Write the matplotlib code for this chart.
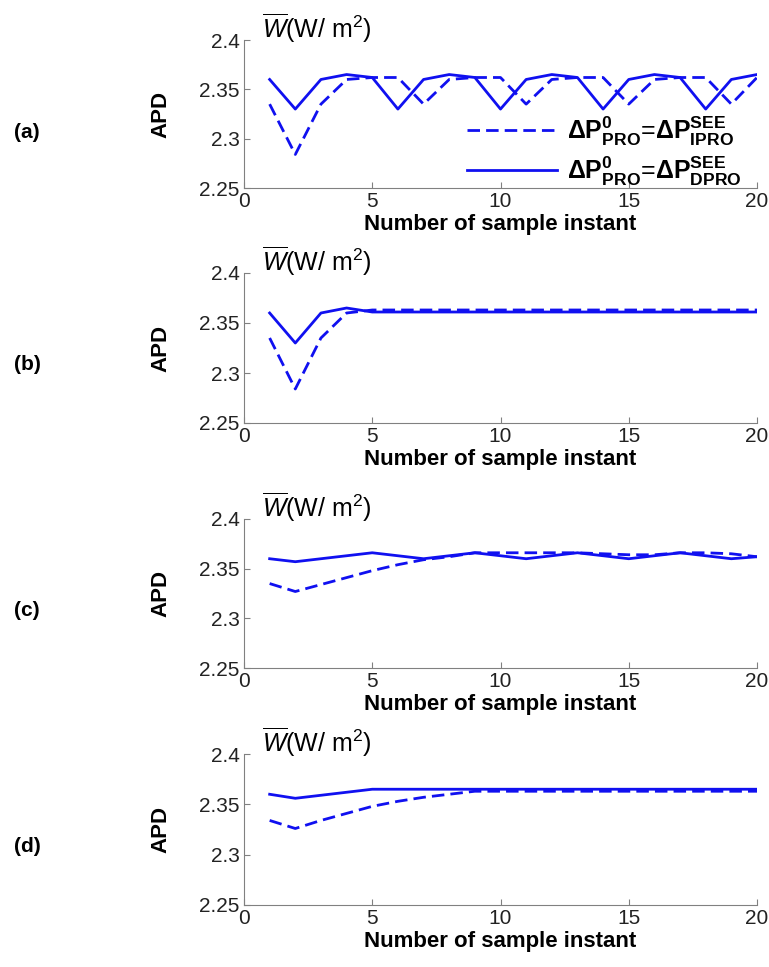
import matplotlib
matplotlib.use('Agg')
import matplotlib.pyplot as plt
import numpy as np

matplotlib.rcParams['font.family'] = ['Liberation Sans', 'DejaVu Sans']
matplotlib.rcParams['mathtext.fontset'] = 'custom'
matplotlib.rcParams['mathtext.rm'] = 'Liberation Sans'
matplotlib.rcParams['mathtext.it'] = 'Liberation Sans:italic'
matplotlib.rcParams['mathtext.bf'] = 'Liberation Sans:bold'

# sample instants
x = np.arange(1, 21)

# (a)
a_solid = [2.360, 2.330, 2.360, 2.365, 2.362, 2.330, 2.360, 2.365, 2.362, 2.330,
           2.360, 2.365, 2.362, 2.330, 2.360, 2.365, 2.362, 2.330, 2.360, 2.365]
a_dashed = [2.335, 2.284, 2.335, 2.360, 2.362, 2.362, 2.335, 2.360, 2.362, 2.362,
            2.335, 2.360, 2.362, 2.362, 2.335, 2.360, 2.362, 2.362, 2.335, 2.362]
# (b)
b_solid = [2.360, 2.330, 2.360, 2.365] + [2.361] * 16
b_dashed = [2.335, 2.284, 2.335, 2.360] + [2.363] * 16
# (c)
c_solid = [2.360, 2.357, 2.360, 2.363, 2.366, 2.363, 2.360, 2.363, 2.366, 2.363,
           2.360, 2.363, 2.366, 2.363, 2.360, 2.363, 2.366, 2.363, 2.360, 2.362]
c_dashed = [2.335, 2.327, 2.334, 2.341, 2.348, 2.354, 2.359, 2.362, 2.366, 2.366,
            2.366, 2.366, 2.366, 2.365, 2.364, 2.364, 2.366, 2.366, 2.365, 2.362]
# (d)
d_solid = [2.360, 2.356, 2.359, 2.362] + [2.365] * 16
d_dashed = [2.334, 2.326, 2.334, 2.341, 2.348, 2.353, 2.357, 2.360] + [2.363] * 12

panels = ['(a)', '(b)', '(c)', '(d)']
solid = [a_solid, b_solid, c_solid, d_solid]
dashed = [a_dashed, b_dashed, c_dashed, d_dashed]

yticks = [2.25, 2.3, 2.35, 2.4]
ytick_labels = ['2.25', '2.3', '2.35', '2.4']
xticks = [0, 5, 10, 15, 20]

W, H = 769, 967
fig = plt.figure(figsize=(W / 100, H / 100), dpi=100)

# axes top / bottom in pixels
tops = [40, 273, 519, 754]
bots = [188, 423, 668, 905]
left, right = 244, 757

blue = '#1010f0'
grey = '#808080'

for i in range(4):
    ax = fig.add_axes([left / W, 1 - bots[i] / H, (right - left) / W, (bots[i] - tops[i]) / H])
    l1, = ax.plot(x, dashed[i], '--', color=blue, lw=2.0, dashes=(4.5, 2.2))
    l2, = ax.plot(x, solid[i], '-', color=blue, lw=2.0)
    ax.set_xlim(0, 20)
    ax.set_ylim(2.25, 2.4)
    ax.set_xticks(xticks)
    ax.set_yticks(yticks)
    ax.set_yticklabels(ytick_labels)
    ax.spines['top'].set_visible(False)
    ax.spines['right'].set_visible(False)
    ax.spines['left'].set_color(grey)
    ax.spines['bottom'].set_color(grey)
    ax.tick_params(direction='in', length=4, color=grey, labelsize=15, pad=3,
                   labelcolor='#222222')
    ax.set_xlabel('Number of sample instant', fontsize=16, fontweight='bold', labelpad=2)
    ax.set_ylabel('APD', fontsize=16, fontweight='bold', labelpad=20)
    ax.text(0.035, 1.08, r'$\overline{W}$(W/ m$^2$)', transform=ax.transAxes,
            fontsize=18, va='center', ha='left')
    fig.text(27 / W, 1 - (tops[i] + 92) / H, panels[i], fontsize=15, fontweight='bold',
             ha='center', va='center')
    if i == 0:
        ax.legend([l1, l2],
                  [r'$\mathbf{\Delta P^{0}_{PRO}}$=$\mathbf{\Delta P^{SEE}_{IPRO}}$',
                   r'$\mathbf{\Delta P^{0}_{PRO}}$=$\mathbf{\Delta P^{SEE}_{DPRO}}$'],
                  loc='lower right', bbox_to_anchor=(1.0, -0.1), frameon=False,
                  fontsize=18, handlelength=3.6, handletextpad=0.4, labelspacing=0.25,
                  borderaxespad=0.2)

fig.savefig('out.png', dpi=100)
